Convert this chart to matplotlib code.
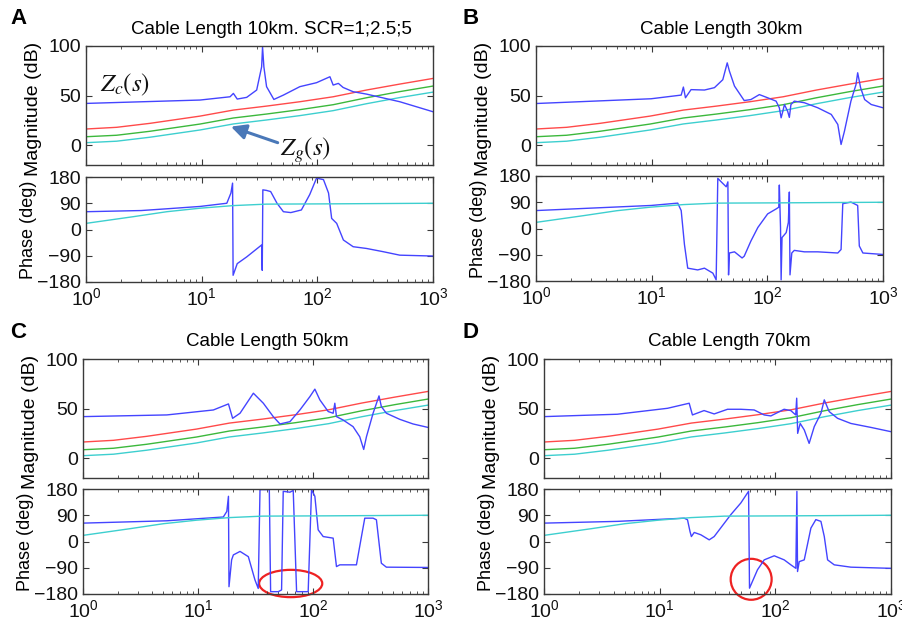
import numpy as np
import matplotlib
matplotlib.use("Agg")
import matplotlib.pyplot as plt
from matplotlib.patches import Ellipse
from matplotlib.ticker import FixedLocator, LogLocator, NullFormatter

plt.rcParams['font.family'] = ['Liberation Sans', 'DejaVu Sans']
plt.rcParams['mathtext.fontset'] = 'custom'
plt.rcParams['mathtext.rm'] = 'Liberation Sans'
plt.rcParams['mathtext.it'] = 'Liberation Sans:italic'

# ---------------- Grid impedance Zg(s) for SCR = 1; 2.5; 5 ----------------
zg_f = [1, 1.84, 3.57, 9.67, 18.8, 36.4, 70.6, 137, 266, 516, 1000]
zg_red_db = [16.3, 18.0, 22.0, 29.3, 35.4, 39.4, 43.8, 48.8, 55.6, 61.6, 67.3]
zg_green_db = [8.5, 10.0, 14.0, 21.3, 27.4, 31.4, 35.8, 40.8, 47.8, 54.0, 59.6]
zg_cyan_db = [2.5, 4.0, 8.0, 15.3, 21.4, 25.4, 29.8, 34.8, 41.8, 48.0, 53.5]
zg_ph_f = [1, 2.57, 5, 9.67, 18.8, 36.4, 137, 1000]
zg_ph_deg = [21, 44, 61, 73, 82, 87, 88, 90]

# ---------------- Panel A: 10 km ----------------
a_mag_f = [1, 9.67, 17.6, 18.8, 20.3, 24.5, 29.9, 33.0, 33.6, 34.5, 36.4, 42.1,
           50.9, 70.6, 98.4, 128.5, 137, 152, 167, 204, 266, 516, 1000]
a_mag_db = [42.1, 45.5, 48.8, 52.2, 46.5, 48.2, 55.6, 79, 99, 79, 59, 46.1,
            50.5, 59, 63, 69, 60.6, 62.3, 58.2, 53.9, 51.5, 43.8, 33.7]
a_ph_f = [1, 3, 5, 9.67, 16.5, 17.9, 18.5, 18.7, 20.3, 24.5, 33.0, 33.4,
          33.8, 36.4, 39.5, 44.8, 50.9, 59.0, 72.8, 86.0, 98.4, 113, 125,
          133, 147, 168, 204, 266, 370, 516, 1000]
a_ph_deg = [61, 65, 71, 79, 90, 125, 159, -157, -117, -94, -53, -140,
            136, 134, 130, 90, 61, 58, 67, 120, 176, 171, 125, 38, 21, -36,
            -59, -65, -76, -88, -91]

# ---------------- Panel B: 30 km ----------------
b_mag_f = [1, 9.9, 18.0, 18.8, 19.6, 21.9, 28.6, 34.9, 41.2, 45.0, 47.0, 52.0,
           63.1, 72.1, 85.3, 100.6, 119, 127, 131.6, 136, 140.6, 150, 155, 160,
           171, 209, 273, 357, 406.6, 434, 464, 528, 584, 604, 640, 694, 791, 1000]
b_mag_db = [42, 46.8, 50.5, 58.6, 47.8, 56, 55.6, 58, 66, 83, 74.7, 59.6, 45,
            46, 51, 47.8, 44.4, 37.7, 27.6, 34, 41, 34, 28, 41, 44.4, 42.8, 37.7,
            31, 20.9, 0.7, 14, 44.4, 61, 73, 58, 46, 41, 37.7]
b_ph_f = [1, 9.9, 16.8, 18.0, 19.2, 20.5, 25.0, 28.6, 33.8, 36.1, 37.3, 39.9,
          44.1, 45.6, 46.2, 47.0, 52.0, 60.5, 63.1, 72.1, 82.8, 100.6, 119,
          125.6, 127, 130, 131.6, 134, 145.6, 152, 155, 157, 162.7, 171, 209,
          273, 406.6, 434, 449, 528, 604, 624, 670, 1000]
b_ph_deg = [61.5, 79, 87, 61.5, -54.6, -136, -142, -136, -153, -176, 172, 160,
            143, 160, -159, -84, -80, -101, -95, -43, 3.5, 50, 67, 73, 149, 3.5,
            -176, -31, -14, 21, 125, -159, -84, -75, -80, -80, -84, -72, 85,
            90.6, 79, -60, -84, -89]

# ---------------- Panel C: 50 km ----------------
c_mag_f = [1, 5.36, 13.6, 18.4, 20.0, 23.2, 30.3, 37.0, 45.1, 51.6, 63.0, 76.9,
           93.9, 103.8, 114.7, 135.6, 149.7, 154.8, 160, 182.8, 223, 255, 276,
           291.6, 333, 375, 393, 434.5, 567, 741, 1000]
c_mag_db = [41.9, 43.6, 48.6, 54.7, 40.2, 45.3, 65.5, 55.4, 41.9, 34.5, 36.8,
            48.6, 62, 69.6, 58.8, 47, 45.3, 55.4, 41.9, 38.5, 31.8, 21.6, 8.8,
            21.6, 45.3, 62.8, 52, 45.3, 39.2, 34.5, 31]
c_ph_f = [1, 5.36, 16.6, 17.8, 18.4, 18.6, 19.6, 20.3, 23.2, 27.4, 31.3, 33.4,
          34.6, 39.5, 41.7, 42.8, 49.9, 53.3, 55.1, 63.0, 67.3, 72.0, 90.8,
          97.1, 103.8, 110.9, 122.6, 149.7, 160, 171, 238.6, 263.9, 281.9, 333,
          356, 393, 434.5, 1000]
c_ph_deg = [63, 71, 84, 103, 155, -155, -63, -46, -34, -52, -132, -161, 178,
            178, 178, -172, -172, -166, 172, 169, 175, -172, -172, 178, 155,
            40, 17, 11.5, -86, -80, -80, 17, 80, 80, 74.5, -74.5, -88, -89]

# ---------------- Panel D: 70 km ----------------
d_mag_f = [1, 4.3, 11.7, 18.0, 19.2, 24.2, 29.6, 38.6, 50.3, 65.6, 80.1, 91.5,
           119, 136, 150, 153, 156, 164, 178, 196, 217, 248, 265, 292, 345,
           450, 671, 1000]
d_mag_db = [41.9, 44.3, 50.3, 55.4, 43.6, 48, 44.6, 49.3, 49.3, 48.6, 43.6,
            42.6, 49.3, 48, 43.6, 60.5, 25, 35, 28.4, 14.9, 31.8, 45.3, 58.8,
            47, 40.2, 35, 31, 26.7]
d_ph_f = [1, 4.31, 16.3, 17.4, 18.3, 18.8, 19.9, 22.7, 26.8, 29.6, 41.2, 50.3,
          58.7, 59.8, 70.1, 80.1, 97.8, 119.3, 136.2, 150.5, 153.6, 155.6,
          160.9, 177.8, 203, 224, 247.8, 265, 283, 323, 450, 1000]
d_ph_deg = [63, 69, 80, 74.5, 34, 17, 31, 23, 5.7, 17, 92, 132, 172, -160,
            -97, -63, -49, -63, -80, -92, 172, -103, -69, -63, 46, 75, 69, 17,
            -63, -80, -88, -92]

titles = ["Cable Length 10km. SCR=1;2.5;5", "Cable Length 30km",
          "Cable Length 50km", "Cable Length 70km"]
letters = ["A", "B", "C", "D"]

panels = [
    (a_mag_f, a_mag_db, a_ph_f, a_ph_deg),
    (b_mag_f, b_mag_db, b_ph_f, b_ph_deg),
    (c_mag_f, c_mag_db, c_ph_f, c_ph_deg),
    (d_mag_f, d_mag_db, d_ph_f, d_ph_deg),
]

W, H = 902, 628
fig = plt.figure(figsize=(W / 100, H / 100), dpi=100)

# pixel boxes: (left, right, mag_top, mag_bottom, ph_top, ph_bottom)
boxes = [
    (86, 433, 46, 165, 177, 282),
    (536, 883, 46, 165, 176, 281),
    (83, 428, 359, 478, 489, 594),
    (544, 891, 359, 478, 489, 594),
]

BLUE = '#4444ff'
RED = '#ff4a4a'
GREEN = '#3cb83c'
CYAN = '#3dcfcf'
SPINE = '#3a3a3a'


def pix_axes(l, r, t, b):
    return fig.add_axes([l / W, 1 - b / H, (r - l) / W, (b - t) / H])


def style(ax):
    ax.set_xscale('log')
    ax.set_xlim(1, 1000)
    for s in ax.spines.values():
        s.set_color(SPINE)
        s.set_linewidth(1.0)
    ax.tick_params(which='both', direction='in', top=True, right=True,
                   colors=SPINE, labelcolor='#111111', labelsize=14)
    ax.tick_params(which='major', length=4)
    ax.tick_params(which='minor', length=2.5)
    ax.xaxis.set_major_locator(FixedLocator([1, 10, 100, 1000]))
    ax.xaxis.set_minor_locator(LogLocator(base=10, subs=np.arange(2, 10)))
    ax.xaxis.set_minor_formatter(NullFormatter())


for i, (mf, mdb, pf, pdeg) in enumerate(panels):
    l, r, mt, mb, pt, pb = boxes[i]
    axm = pix_axes(l, r, mt, mb)
    axp = pix_axes(l, r, pt, pb)
    style(axm)
    style(axp)

    axm.plot(zg_f, zg_red_db, color=RED, lw=1.0)
    axm.plot(zg_f, zg_green_db, color=GREEN, lw=1.0)
    axm.plot(zg_f, zg_cyan_db, color=CYAN, lw=1.0)
    axm.plot(mf, mdb, color=BLUE, lw=1.0)
    axm.set_ylim(-20, 100)
    axm.set_yticks([0, 50, 100])
    axm.set_xticklabels([])
    axm.set_ylabel('Magnitude (dB)', fontsize=14, labelpad=1)
    axm.yaxis.set_label_coords(-0.127, 0.47)
    axm.set_title(titles[i], fontsize=13.5, pad=9, x=0.5 + 12 / (r - l))

    axp.plot(pf, pdeg, color=BLUE, lw=1.0)
    axp.plot(zg_ph_f, zg_ph_deg, color=CYAN, lw=1.0)
    axp.set_ylim(-180, 180)
    axp.set_yticks([-180, -90, 0, 90, 180])
    axp.set_xticklabels([r'$10^0$', r'$10^1$', r'$10^2$', r'$10^3$'])
    axp.tick_params(axis='x', labelsize=14, pad=4)
    axp.set_ylabel('Phase (deg)', fontsize=13, labelpad=1)
    axp.yaxis.set_label_coords(-0.141, 0.5)

    lx = 10 if i % 2 == 0 else 463
    ly = 18 if i < 2 else 332
    fig.text(lx / W, 1 - ly / H, letters[i], fontsize=16, fontweight='bold',
             va='center', ha='left')

    if i == 0:
        axm.text(0.04, 0.62, r'$Z_c(s)$', transform=axm.transAxes,
                 fontsize=18, math_fontfamily='stix', color='#111111')
        axm.text(0.56, 0.08, r'$Z_g(s)$', transform=axm.transAxes,
                 fontsize=18, math_fontfamily='stix', color='#111111')
        axm.annotate('', xy=(0.41, 0.33), xytext=(0.56, 0.18),
                     xycoords='axes fraction', textcoords='axes fraction',
                     arrowprops=dict(arrowstyle='-|>,head_width=0.45,head_length=0.9',
                                     color='#4a78b8', lw=2.2))
    if i == 2:
        axp.add_patch(Ellipse((0.602, 0.10), 0.183, 0.26, transform=axp.transAxes,
                              fill=False, edgecolor='#ee2222', lw=1.6, clip_on=False))
    if i == 3:
        axp.add_patch(Ellipse((0.597, 0.14), 0.118, 0.39, transform=axp.transAxes,
                              fill=False, edgecolor='#ee2222', lw=1.6, clip_on=False))

fig.savefig('out.png', dpi=100, facecolor='white')
